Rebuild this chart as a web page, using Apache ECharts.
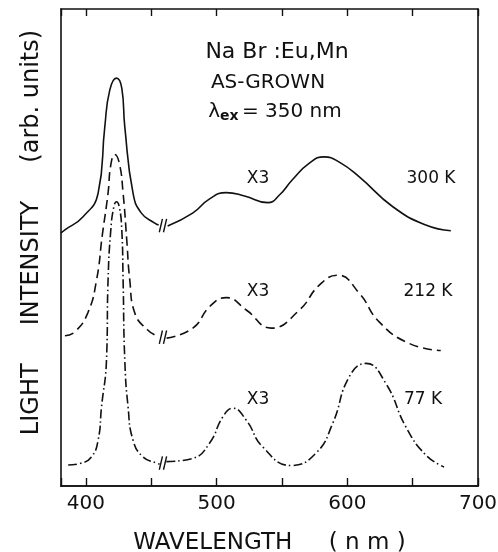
<!DOCTYPE html>
<html>
<head>
<meta charset="utf-8">
<script src="https://cdn.jsdelivr.net/npm/echarts@6/dist/echarts.min.js"></script>
<style>
    html, body { margin: 0; padding: 0; background: #fff; }
    #chart { width: 498px; height: 552px; }
</style>
</head>
<body>
<div id="chart"></div>
<script>
    // emission spectra, NaBr:Eu,Mn as-grown, excitation 350 nm
    // null marks the axis break (//) between the Eu band and the x3 Mn part
    var wl300 = [380.9, 384.0, 397.7, 409.4, 414.5, 418.3, 423.4, 427.5, 429.8, 436.1, 442.5, 452.7, 455.7, null,
        462.6, 481.7, 494.7, 507.4, 521.4, 539.2, 548.1, 558.0, 571.0, 582.4, 593.9, 609.2, 634.6, 660.1, 679.2];
    var int300 = [53.0, 53.7, 56.4, 61.4, 75.3, 83.0, 85.5, 83.4, 75.3, 61.4, 57.2, 55.1, 54.7, null,
        54.5, 57.2, 60.2, 61.5, 60.8, 59.4, 61.0, 64.2, 67.7, 69.0, 67.9, 64.8, 58.6, 54.7, 53.5];

    var wl212 = [384.0, 391.6, 401.5, 408.2, 412.6, 417.0, 419.1, 422.1, 425.6, 428.5, 431.3, 433.6, 437.4, 447.3, 455.0, null,
        461.8, 481.9, 494.7, 507.4, 522.7, 541.8, 563.4, 578.6, 592.6, 609.2, 624.4, 647.3, 671.5];
    var int212 = [31.5, 32.3, 36.3, 43.2, 52.6, 61.4, 67.3, 69.5, 67.7, 61.4, 51.6, 43.2, 36.3, 32.7, 31.4, null,
        31.0, 33.1, 37.6, 39.5, 36.9, 33.1, 36.9, 42.1, 44.2, 40.4, 34.4, 29.9, 28.4];

    var wl77 = [386.5, 396.7, 404.4, 409.4, 412.0, 415.8, 417.0, 419.1, 421.4, 423.4, 425.6, 427.5, 428.5, 429.8, 432.3, 436.1, 443.7, 454.0, 456.5, null,
        461.6, 481.9, 494.7, 504.8, 512.4, 522.7, 535.3, 557.0, 576.1, 588.8, 601.5, 614.3, 629.5, 644.8, 660.1, 674.0];
    var int77 = [4.4, 4.8, 6.1, 9.6, 16.6, 26.4, 43.2, 53.7, 58.5, 59.6, 58.5, 53.7, 43.2, 26.4, 16.6, 9.6, 6.1, 4.8, 4.6, null,
        5.1, 5.8, 9.0, 14.5, 16.3, 13.8, 8.2, 4.3, 6.9, 13.1, 22.9, 25.7, 21.5, 12.4, 6.5, 4.0];

    // where the // break marks sit on each curve (nm, intensity)
    var breakWl = [457.4, 460.6];
    var breakLevel = [54.6, 31.2, 4.8];

    // ticks every 50 nm (auto), labels every 100 nm
    var labelValues = [400, 500, 600, 700];

    function pairs(xs, ys) {
        var out = [];
        for (var i = 0; i < xs.length; i++) {
            out.push(xs[i] === null ? [null, null] : [xs[i], ys[i]]);
        }
        return out;
    }

    var FONT = "DejaVu Sans";
    var INK = "#111";

    function curve(name, xs, ys, dash) {
        return {
            name: name,
            type: 'line',
            data: pairs(xs, ys),
            smooth: 0.5,
            showSymbol: false,
            connectNulls: false,
            silent: true,
            lineStyle: {color: INK, width: 1.6, type: dash}
        };
    }

    var series = [
        curve('300 K', wl300, int300, 'solid'),
        curve('212 K', wl212, int212, [9, 5]),
        curve('77 K', wl77, int77, [9, 3, 1.5, 3])
    ];

    // the little slashes of the axis break
    breakLevel.forEach(function (lv) {
        breakWl.forEach(function (w) {
            series.push({
                type: 'line',
                data: [[w - 1.2, lv - 1.4], [w + 1.2, lv + 1.4]],
                showSymbol: false,
                silent: true,
                lineStyle: {color: INK, width: 1.4}
            });
        });
    });

    function txt(text, x, y, size) {
        return {
            type: 'text',
            style: {
                text: text, x: x, y: y,
                font: size + 'px ' + FONT,
                fill: INK,
                textAlign: 'center',
                textVerticalAlign: 'middle'
            }
        };
    }

    function xLabel(v) {
        return labelValues.indexOf(Math.round(v)) >= 0 ? String(Math.round(v)) : '';
    }

    // tick-only frame axis; onZero=true drops it onto the bottom edge (y = 0),
    // where "outside" of a top axis points up into the plot
    function frameAxis(onBottom, len) {
        return {
            type: 'value', min: 381, max: 700, position: 'top', splitNumber: 6,
            axisLine: {onZero: onBottom, onZeroAxisIndex: 0, lineStyle: {color: INK, width: 1.6}},
            axisTick: {show: true, inside: !onBottom, length: len, lineStyle: {color: INK, width: 1.4}},
            axisLabel: {show: false},
            splitLine: {show: false}
        };
    }

    var option = {
        animation: false,
        backgroundColor: '#fff',
        grid: {left: 61, right: 20, top: 9, bottom: 66, containLabel: false, outerBoundsMode: 'none'},
        xAxis: [
            {
                type: 'value', min: 381, max: 700, position: 'bottom', splitNumber: 6,
                name: 'WAVELENGTH     ( n m )',
                nameLocation: 'middle', nameGap: 46,
                nameTextStyle: {fontFamily: FONT, fontSize: 23, color: INK},
                axisLine: {onZero: false, lineStyle: {color: INK, width: 1.6}},
                axisTick: {show: false},
                axisLabel: {formatter: xLabel, showMinLabel: false, fontFamily: FONT, fontSize: 20, color: INK, margin: 8},
                splitLine: {show: false}
            },
            frameAxis(false, 7),
            frameAxis(true, 8)
        ],
        yAxis: [
            {
                type: 'value', min: 0, max: 100, position: 'left',
                name: 'LIGHT     INTENSITY     (arb. units)',
                nameLocation: 'middle', nameGap: 17, nameRotate: 90,
                nameTextStyle: {fontFamily: FONT, fontSize: 24, color: INK, padding: [0, 0, 0, 30]},
                axisLine: {show: true, onZero: false, lineStyle: {color: INK, width: 1.6}},
                axisTick: {show: false},
                axisLabel: {show: false},
                splitLine: {show: false}
            },
            {
                type: 'value', min: 0, max: 100, position: 'right',
                axisLine: {show: true, onZero: false, lineStyle: {color: INK, width: 1.6}},
                axisTick: {show: false},
                axisLabel: {show: false},
                splitLine: {show: false}
            }
        ],
        graphic: [
            txt('Na Br :Eu,Mn', 277, 52, 22),
            txt('AS-GROWN', 268, 83, 20),
            {
                type: 'text',
                style: {
                    text: '{l|λ}{s|ex} {l|= 350 nm}',
                    x: 275, y: 112,
                    textAlign: 'center', textVerticalAlign: 'middle',
                    fill: INK,
                    rich: {
                        l: {fontFamily: FONT, fontSize: 20, color: INK},
                        s: {fontFamily: FONT, fontSize: 14, color: INK, fontWeight: 'bold', padding: [8, 0, 0, 0]}
                    }
                }
            },
            txt('X3', 258, 179, 17),
            txt('300 K', 431, 179, 17),
            txt('X3', 258, 292, 17),
            txt('212 K', 428, 292, 17),
            txt('X3', 258, 400, 17),
            txt('77 K', 423, 400, 17)
        ],
        series: series
    };

    var chart = echarts.init(document.getElementById('chart'), null, {renderer: 'canvas'});
    chart.setOption(option);
</script>
</body>
</html>
